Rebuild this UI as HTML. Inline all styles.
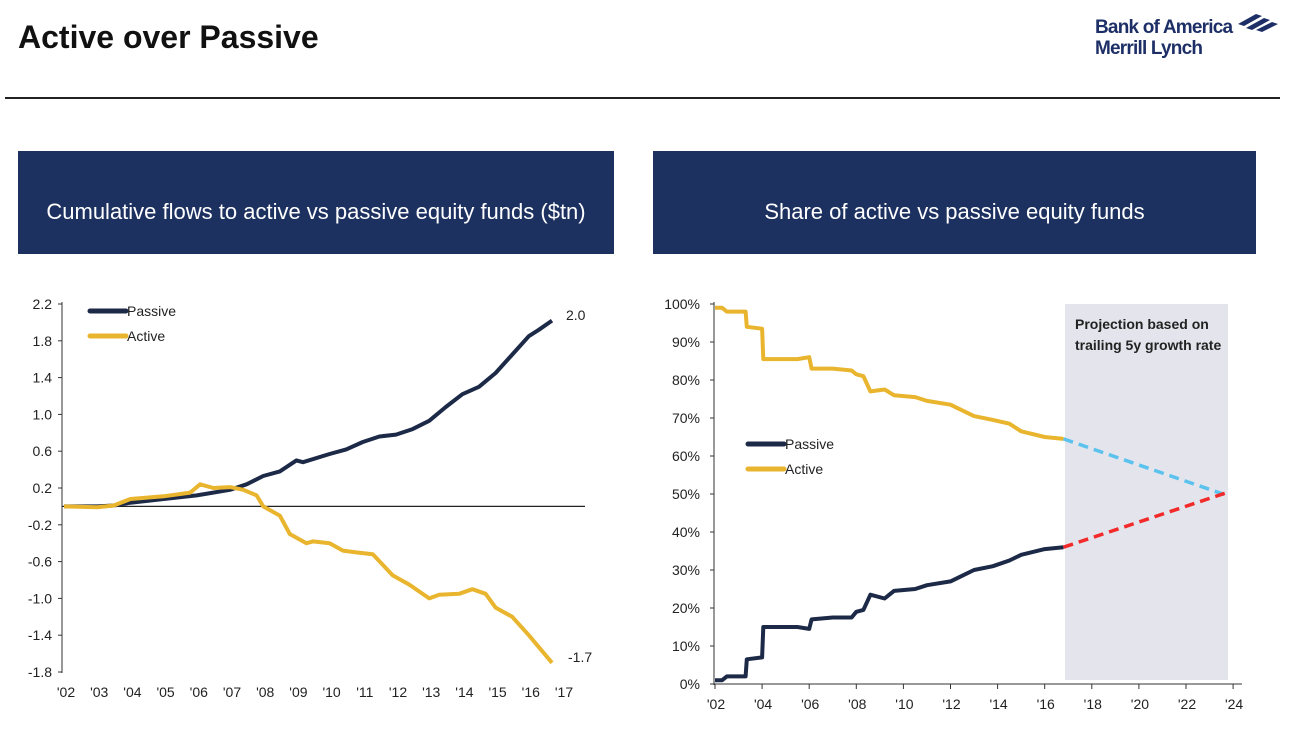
<!DOCTYPE html>
<html><head><meta charset="utf-8"><style>
body{margin:0;width:1294px;height:741px;background:#fff;font-family:"Liberation Sans",sans-serif;overflow:hidden;position:relative}
.t{position:absolute}
.banner{position:absolute;background:#1d3160;color:#fff;font-size:22px;display:flex;align-items:center;justify-content:center;box-sizing:border-box;padding-top:18px}
svg text{font-family:"Liberation Sans",sans-serif}
</style></head><body>
<div class="t" style="left:18px;top:19px;font-size:32px;font-weight:bold;color:#111">Active over Passive</div>
<div class="t" style="left:1095px;top:17px;color:#1d2f66;font-weight:bold;font-size:19px;line-height:21px;letter-spacing:-0.8px">Bank of America<br>Merrill Lynch</div>
<svg class="t" style="left:1236px;top:10px" width="44" height="24"><g fill="#1d2f66"><path d="M2 14 L20 4 L26 6 L8 16Z"/><path d="M10 18 L28 8 L34 10 L16 20Z"/><path d="M20 20 L36 12 L42 14 L26 22Z"/></g></svg>
<div class="t" style="left:5px;top:97px;width:1275px;height:2px;background:#222"></div>
<div class="banner" style="left:18px;top:151px;width:596px;height:103px">Cumulative flows to active vs passive equity funds ($tn)</div>
<div class="banner" style="left:653px;top:151px;width:603px;height:103px">Share of active vs passive equity funds</div>
<svg id="chart" class="t" style="left:0;top:0" width="1294" height="741"></svg>
<script>
const lpYears=[2002,2003,2003.5,2004,2005,2006,2007,2007.5,2008,2008.5,2009,2009.2,2010,2010.5,2011,2011.5,2012,2012.5,2013,2013.5,2014,2014.5,2015,2015.5,2016,2016.3,2016.7];
const lpVals=[0,0,0.01,0.04,0.08,0.12,0.18,0.24,0.33,0.38,0.5,0.48,0.57,0.62,0.7,0.76,0.78,0.84,0.93,1.08,1.22,1.3,1.45,1.65,1.85,1.92,2.02];
const laYears=[2002,2003,2003.5,2004,2005,2005.8,2006.1,2006.5,2007,2007.4,2007.8,2008,2008.5,2008.8,2009.3,2009.5,2010,2010.4,2010.8,2011.3,2011.9,2012.4,2013,2013.3,2013.9,2014.3,2014.7,2015,2015.5,2016,2016.7];
const laVals=[0,-0.01,0.01,0.08,0.11,0.15,0.24,0.2,0.21,0.18,0.12,0,-0.1,-0.3,-0.4,-0.38,-0.4,-0.48,-0.5,-0.52,-0.75,-0.85,-1.0,-0.96,-0.95,-0.9,-0.95,-1.1,-1.2,-1.4,-1.7];
const lyTicks=[2.2,1.8,1.4,1.0,0.6,0.2,-0.2,-0.6,-1.0,-1.4,-1.8];
const lxTicks=["'02","'03","'04","'05","'06","'07","'08","'09","'10","'11","'12","'13","'14","'15","'16","'17"];
const rpYears=[2002,2002.3,2002.5,2003.3,2003.35,2004,2004.05,2005,2005.5,2006,2006.1,2007,2007.8,2008,2008.3,2008.6,2009.2,2009.6,2010.5,2011,2012,2012.5,2013,2013.8,2014.5,2015,2016,2016.8];
const rpVals=[1,1,2,2,6.5,7,15,15,15,14.5,17,17.5,17.5,19,19.5,23.5,22.5,24.5,25,26,27,28.5,30,31,32.5,34,35.5,36];
const raYears=[2002,2002.3,2002.5,2003.3,2003.35,2004,2004.05,2005,2005.5,2006,2006.1,2007,2007.8,2008,2008.3,2008.6,2009.2,2009.6,2010.5,2011,2012,2012.5,2013,2013.8,2014.5,2015,2016,2016.8];
const raVals=[99,99,98,98,94,93.5,85.5,85.5,85.5,86,83,83,82.5,81.5,81,77,77.5,76,75.5,74.5,73.5,72,70.5,69.5,68.5,66.5,65,64.5];
const projYears=[2016.8,2023.8];
const projPassive=[36,50.5];
const projActive=[64.5,49.5];
const ryTicks=[100,90,80,70,60,50,40,30,20,10,0];
const rxTicks=["'02","'04","'06","'08","'10","'12","'14","'16","'18","'20","'22","'24"];

const NS="http://www.w3.org/2000/svg",svg=document.getElementById('chart');
function mk(t,a,p){const e=document.createElementNS(NS,t);for(const k in a)e.setAttribute(k,a[k]);(p||svg).appendChild(e);return e;}
const lx=y=>64+(y-2002)*33.2, ly=v=>506.4-v*92;
const rx=y=>715+(y-2002)*23.55, ry=v=>684-v*3.8;
const NAVY="#1c2a48",GOLD="#e9b52e";
function path(xs,vs,fx,fy){return xs.map((x,i)=>(i?'L':'M')+fx(x).toFixed(1)+' '+fy(vs[i]).toFixed(1)).join(' ');}
let e=mk('line',{x1:62,y1:302,x2:62,y2:673,stroke:'#333'});

lyTicks.forEach(v=>{
 let t=mk('text',{x:52,y:ly(v)+5,'text-anchor':'end','font-size':14,fill:'#222'});t.textContent=v.toFixed(1);
 
 mk('line',{x1:58,x2:62,y1:ly(v),y2:ly(v),stroke:'#333'});
});
lxTicks.forEach((s,i)=>{let t=mk('text',{x:lx(2002+i)+2,y:697,'text-anchor':'middle','font-size':14,fill:'#222'});t.textContent=s;
 });
e=mk('line',{x1:62,y1:ly(0),x2:585,y2:ly(0),stroke:'#222','stroke-width':1.2});

e=mk('path',{d:path(lpYears,lpVals,lx,ly),stroke:NAVY,'stroke-width':4,fill:'none','stroke-linejoin':'round'});

e=mk('path',{d:path(laYears,laVals,lx,ly),stroke:GOLD,'stroke-width':4,fill:'none','stroke-linejoin':'round'});

e=mk('text',{x:566,y:320,'font-size':14,fill:'#222'});e.textContent='2.0';

e=mk('text',{x:568,y:662,'font-size':14,fill:'#222'});e.textContent='-1.7';

function legend(x,y,col,label,nm){let l=mk('line',{x1:x,x2:x+36,y1:y,y2:y,stroke:col,'stroke-width':5,'stroke-linecap':'round'});
 
 let t=mk('text',{x:x+37,y:y+5,'font-size':14,fill:'#222'});t.textContent=label;
 }
legend(90,311,NAVY,'Passive','left-legend-passive');
legend(90,336,GOLD,'Active','left-legend-active');
e=mk('rect',{x:1065,y:304,width:163,height:376,fill:'#e4e5ec'});

e=mk('text',{x:1075,y:329,'font-size':14,'font-weight':'bold',fill:'#222'});e.textContent='Projection based on';

e=mk('text',{x:1075,y:350,'font-size':14,'font-weight':'bold',fill:'#222'});e.textContent='trailing 5y growth rate';

e=mk('line',{x1:714,y1:302,x2:714,y2:685,stroke:'#333'});

e=mk('line',{x1:714,y1:684,x2:1242,y2:684,stroke:'#333'});

ryTicks.forEach(v=>{let t=mk('text',{x:700,y:ry(v)+5,'text-anchor':'end','font-size':14,fill:'#222'});t.textContent=v+'%';
 
 mk('line',{x1:710,x2:714,y1:ry(v),y2:ry(v),stroke:'#333'});});
rxTicks.forEach((s,i)=>{let x=rx(2002+2*i);let t=mk('text',{x:x+1,y:709,'text-anchor':'middle','font-size':14,fill:'#222'});t.textContent=s;
 
 mk('line',{x1:x,x2:x,y1:684,y2:689,stroke:'#333'});});
e=mk('path',{d:path(raYears,raVals,rx,ry),stroke:GOLD,'stroke-width':4,fill:'none','stroke-linejoin':'round'});

e=mk('path',{d:path(rpYears,rpVals,rx,ry),stroke:NAVY,'stroke-width':4,fill:'none','stroke-linejoin':'round'});

e=mk('path',{d:path(projYears,projActive,rx,ry),stroke:'#5bc2ee','stroke-width':3.5,fill:'none','stroke-dasharray':'10 6'});

e=mk('path',{d:path(projYears,projPassive,rx,ry),stroke:'#f22a2a','stroke-width':3.5,fill:'none','stroke-dasharray':'10 6'});

legend(748,444,NAVY,'Passive','right-legend-passive');
legend(748,469,GOLD,'Active','right-legend-active');
</script>
</body></html>
